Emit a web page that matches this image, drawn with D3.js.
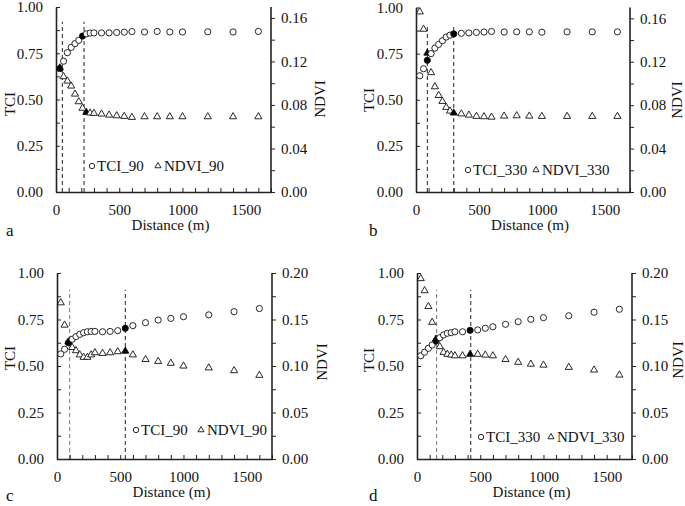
<!DOCTYPE html>
<html>
<head>
<meta charset="utf-8">
<script src="https://cdn.jsdelivr.net/npm/d3@7"></script>
<style>
  body { margin: 0; background: #fff; }
  svg text { font-family: "Liberation Serif", "Times New Roman", "DejaVu Serif", serif !important; fill: #111; }
  .axis path, .axis line { stroke: #222; }
  .axis text { font-size: 15px; }
</style>
</head>
<body>
<script>
// Distances (m) shared by all four panels
const distance = [30, 60, 90, 120, 150, 180, 210, 240, 270, 300, 360, 420, 480, 540, 600, 700, 800, 900, 1000, 1200, 1400, 1600];

// a: 90 m
const tciA  = [0.667, 0.707, 0.753, 0.782, 0.802, 0.82, 0.843, 0.855, 0.859, 0.86, 0.86, 0.86, 0.862, 0.864, 0.867, 0.865, 0.868, 0.865, 0.865, 0.866, 0.865, 0.868];
const ndviA = [0.114, 0.106, 0.102, 0.0974, 0.09, 0.083, 0.077, 0.0732, 0.0726, 0.0723, 0.0717, 0.0707, 0.0701, 0.0695, 0.0686, 0.0692, 0.0692, 0.0692, 0.0692, 0.0692, 0.0692, 0.0692];
// b: 330 m
const tciB  = [0.63, 0.668, 0.714, 0.75, 0.78, 0.80, 0.82, 0.84, 0.85, 0.857, 0.86, 0.862, 0.865, 0.867, 0.87, 0.867, 0.868, 0.868, 0.866, 0.868, 0.868, 0.868];
const ndviB = [0.166, 0.150, 0.128, 0.110, 0.097, 0.089, 0.0835, 0.078, 0.0746, 0.0728, 0.072, 0.0709, 0.0697, 0.0694, 0.069, 0.070, 0.0703, 0.070, 0.0697, 0.0697, 0.0697, 0.0697];
// c: 90 m
const tciC  = [0.565, 0.59, 0.625, 0.644, 0.658, 0.670, 0.679, 0.684, 0.686, 0.686, 0.684, 0.686, 0.690, 0.703, 0.717, 0.733, 0.747, 0.756, 0.765, 0.775, 0.792, 0.809];
const ndviC = [0.168, 0.144, 0.126, 0.120, 0.1165, 0.112, 0.1094, 0.1094, 0.112, 0.1143, 0.1136, 0.1143, 0.1154, 0.116, 0.112, 0.107, 0.105, 0.103, 0.100, 0.098, 0.095, 0.090];
// d: 330 m
const tciD  = [0.555, 0.574, 0.595, 0.613, 0.634, 0.652, 0.667, 0.676, 0.679, 0.684, 0.684, 0.692, 0.694, 0.703, 0.711, 0.724, 0.738, 0.751, 0.760, 0.770, 0.789, 0.805];
const ndviD = [0.194, 0.181, 0.164, 0.147, 0.129, 0.1208, 0.1147, 0.1126, 0.1118, 0.111, 0.111, 0.1126, 0.1126, 0.1118, 0.111, 0.107, 0.104, 0.102, 0.101, 0.0986, 0.0957, 0.0903];

// threshold distances (filled markers) and dashed reference lines
const filledTciA = [30, 210], filledNdviA = [30, 240], linesA = [50, 222];
const filledTciB = [90, 300], filledNdviB = [90, 300], linesB = [90, 300];
const filledTciC = [90, 540], filledNdviC = [90, 540], linesC = [100, 540];
const filledTciD = [150, 420], filledNdviD = [150, 420], linesD = [155, 425];

// tick labels
const distTicks = [0, 500, 1000, 1500];
const tciTicks = [0, 0.25, 0.5, 0.75, 1.0];
const ndviTicksAB = [0, 0.04, 0.08, 0.12, 0.16];
const ndviTicksCD = [0, 0.05, 0.10, 0.15, 0.20];

const FONT = '"Liberation Serif", "Times New Roman", serif';

const svg = d3.select('body').append('svg')
    .attr('width', 685)
    .attr('height', 506)
    .attr('font-family', FONT);

function drawPanel(p) {
    const x = d3.scaleLinear().domain([0, 1700]).range([p.left, p.right]);
    const y = d3.scaleLinear().domain([0, 1]).range([p.bottom, p.top]);
    const y2 = d3.scaleLinear().domain([0, p.ndviMax]).range([p.bottom, p.top]);

    const g = svg.append('g');

    // dashed threshold lines
    g.selectAll('.vline')
        .data(p.lines)
        .enter().append('line')
        .attr('x1', d => x(d)).attr('x2', d => x(d))
        .attr('y1', y(0)).attr('y2', y(p.lineTop))
        .attr('stroke', (d, i) => i === 0 ? p.firstLineColor : '#222')
        .attr('stroke-width', 1)
        .attr('stroke-dasharray', '4,3');

    // axes
    const minorTci = d3.range(0, 1.0001, 0.125);
    const leftAxis = g.append('g')
        .attr('class', 'axis')
        .attr('transform', `translate(${p.left},0)`)
        .call(d3.axisLeft(y).tickValues(minorTci).tickSizeInner(-4).tickSizeOuter(0).tickPadding(13)
            .tickFormat(d => tciTicks.some(t => Math.abs(t - d) < 1e-6) ? d3.format('.2f')(d) : ''));
    leftAxis.attr('font-family', FONT).attr('font-size', 15);
    leftAxis.select('.domain').attr('stroke-width', 1.6);

    const ndviTicks = p.ndviTicks;
    const step = (ndviTicks[1] - ndviTicks[0]) / 2;
    const minorNdvi = d3.range(0, p.ndviMax + 1e-6, step);
    const rightAxis = g.append('g')
        .attr('class', 'axis')
        .attr('transform', `translate(${p.right},0)`)
        .call(d3.axisRight(y2).tickValues(minorNdvi).tickSizeInner(4).tickSizeOuter(0).tickPadding(6)
            .tickFormat(d => ndviTicks.some(t => Math.abs(t - d) < 1e-6) ? d3.format('.2f')(d) : ''));
    rightAxis.attr('font-family', FONT).attr('font-size', 15);
    rightAxis.select('.domain').attr('stroke-width', 1.6).attr('d', `M0,${p.bottom}V${p.top}`);

    const bottomAxis = g.append('g')
        .attr('class', 'axis')
        .attr('transform', `translate(0,${p.bottom})`)
        .call(d3.axisBottom(x).tickValues(d3.range(0, 1701, 100)).tickSizeInner(-4).tickSizeOuter(0).tickPadding(12)
            .tickFormat(d => distTicks.includes(d) ? d : ''));
    bottomAxis.attr('font-family', FONT).attr('font-size', 15);
    bottomAxis.select('.domain').attr('stroke-width', 1.6);

    // NDVI triangles
    const tri = d3.symbol().type(d3.symbolTriangle).size(22);
    g.selectAll('.ndvi')
        .data(distance.map((d, i) => ({ d: d, v: p.ndvi[i] })))
        .enter().append('path')
        .attr('d', tri)
        .attr('transform', d => `translate(${x(d.d)},${y2(d.v)})`)
        .attr('fill', d => p.filledNdvi.includes(d.d) ? '#000' : '#fff')
        .attr('stroke', '#111')
        .attr('stroke-width', 0.9);

    // TCI circles
    g.selectAll('.tci')
        .data(distance.map((d, i) => ({ d: d, v: p.tci[i] })))
        .enter().append('circle')
        .attr('cx', d => x(d.d))
        .attr('cy', d => y(d.v))
        .attr('r', 3.1)
        .attr('fill', d => p.filledTci.includes(d.d) ? '#000' : '#fff')
        .attr('stroke', '#111')
        .attr('stroke-width', 0.9);

    // axis titles
    g.append('text')
        .attr('transform', `translate(${p.tciTitle[0]},${p.tciTitle[1]}) rotate(-90)`)
        .attr('text-anchor', 'middle').attr('dominant-baseline', 'central')
        .style('font-size', '15px').text('TCI');
    g.append('text')
        .attr('transform', `translate(${p.ndviTitle[0]},${p.ndviTitle[1]}) rotate(-90)`)
        .attr('text-anchor', 'middle').attr('dominant-baseline', 'central')
        .style('font-size', '15px').text('NDVI');
    g.append('text')
        .attr('x', (p.left + p.right) / 2 + 7)
        .attr('y', p.bottom + 38)
        .attr('text-anchor', 'middle')
        .style('font-size', '15px').text('Distance (m)');
    g.append('text')
        .attr('x', p.letter[0]).attr('y', p.letter[1])
        .style('font-size', '17px').text(p.name);

    // legend
    const lg = g.append('g').attr('transform', `translate(${p.legend[0]},${p.legend[1]})`);
    lg.append('circle').attr('cx', 0).attr('cy', 0).attr('r', 2.7)
        .attr('fill', '#fff').attr('stroke', '#111').attr('stroke-width', 0.9);
    lg.append('text').attr('x', 5).attr('y', 5).style('font-size', '15px').text(p.tciLabel);
    lg.append('path').attr('d', d3.symbol().type(d3.symbolTriangle).size(16))
        .attr('transform', `translate(${p.legendGap},0)`)
        .attr('fill', '#fff').attr('stroke', '#111').attr('stroke-width', 0.9);
    lg.append('text').attr('x', p.legendGap + 6).attr('y', 5).style('font-size', '15px').text(p.ndviLabel);
}

drawPanel({ name: 'a', left: 56, right: 271, top: 7, bottom: 192, ndviMax: 0.17, ndviTicks: ndviTicksAB,
    tci: tciA, ndvi: ndviA, filledTci: filledTciA, filledNdvi: filledNdviA, lines: linesA, lineTop: 0.92, firstLineColor: '#222',
    tciTitle: [10, 104], ndviTitle: [320, 99], letter: [6, 236], legend: [92, 166], legendGap: 66,
    tciLabel: 'TCI_90', ndviLabel: 'NDVI_90' });
drawPanel({ name: 'b', left: 416, right: 630, top: 7.5, bottom: 192, ndviMax: 0.17, ndviTicks: ndviTicksAB,
    tci: tciB, ndvi: ndviB, filledTci: filledTciB, filledNdvi: filledNdviB, lines: linesB, lineTop: 0.9, firstLineColor: '#222',
    tciTitle: [369, 100], ndviTitle: [677, 100], letter: [369, 236], legend: [468, 170], legendGap: 68,
    tciLabel: 'TCI_330', ndviLabel: 'NDVI_330' });
drawPanel({ name: 'c', left: 57, right: 272, top: 273, bottom: 459, ndviMax: 0.20, ndviTicks: ndviTicksCD,
    tci: tciC, ndvi: ndviC, filledTci: filledTciC, filledNdvi: filledNdviC, lines: linesC, lineTop: 0.91, firstLineColor: '#777',
    tciTitle: [10, 358], ndviTitle: [322, 362], letter: [6, 501], legend: [136, 430], legendGap: 65,
    tciLabel: 'TCI_90', ndviLabel: 'NDVI_90' });
drawPanel({ name: 'd', left: 417, right: 632, top: 273, bottom: 459, ndviMax: 0.20, ndviTicks: ndviTicksCD,
    tci: tciD, ndvi: ndviD, filledTci: filledTciD, filledNdvi: filledNdviD, lines: linesD, lineTop: 0.91, firstLineColor: '#777',
    tciTitle: [369, 360], ndviTitle: [678, 360], letter: [369, 501], legend: [481, 437], legendGap: 70,
    tciLabel: 'TCI_330', ndviLabel: 'NDVI_330' });
</script>
</body>
</html>
